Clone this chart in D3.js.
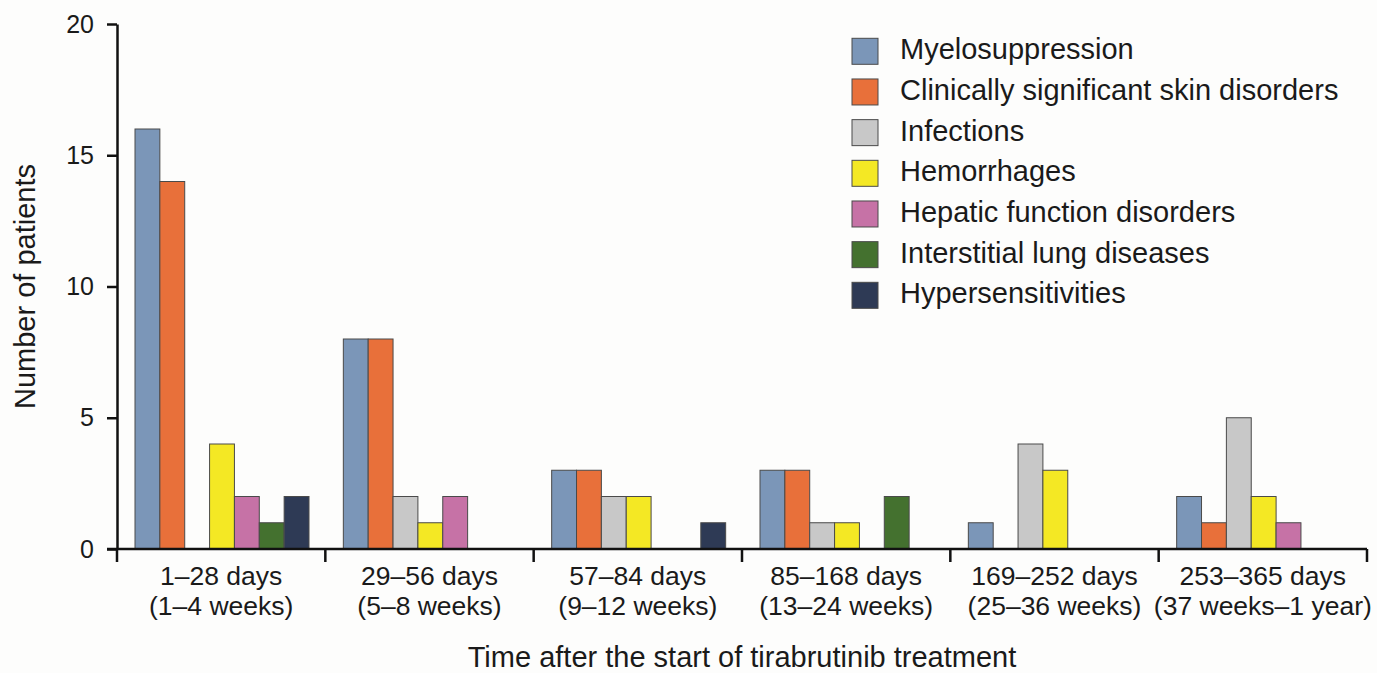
<!DOCTYPE html>
<html>
<head>
<meta charset="utf-8">
<script src="https://cdn.jsdelivr.net/npm/d3@7"></script>
<style>
  body { margin: 0; background: #fdfdfc; }
  text { font-family: "Liberation Sans", Arial, sans-serif; fill: #1a1a1a; }
</style>
</head>
<body>
<div id="chart"></div>
<script>
// data
const periods = ["1–28 days|(1–4 weeks)", "29–56 days|(5–8 weeks)", "57–84 days|(9–12 weeks)",
    "85–168 days|(13–24 weeks)", "169–252 days|(25–36 weeks)", "253–365 days|(37 weeks–1 year)"];
const events = ["Myelosuppression", "Clinically significant skin disorders", "Infections", "Hemorrhages",
    "Hepatic function disorders", "Interstitial lung diseases", "Hypersensitivities"];
const myelosuppression = [16, 8, 3, 3, 1, 2];
const skinDisorders = [14, 8, 3, 3, 0, 1];
const infections = [0, 2, 2, 1, 4, 5];
const hemorrhages = [4, 1, 2, 1, 3, 2];
const hepatic = [2, 2, 0, 0, 0, 1];
const lung = [1, 0, 0, 2, 0, 0];
const hypersensitivities = [2, 0, 1, 0, 0, 0];
const yTicks = [0, 5, 10, 15, 20];
const colors = ["#7b96b8", "#e8703a", "#c8c8c8", "#f4e824", "#c672a6", "#44712f", "#2e3a55"];

const series = [myelosuppression, skinDisorders, infections, hemorrhages, hepatic, lung, hypersensitivities];
const data = periods.map((p, i) => ({ period: p, values: events.map((e, j) => ({ key: e, value: series[j][i] })) }));

// set the dimensions and margins of the graph
const margin = { top: 24, right: 10, bottom: 124, left: 117 },
    width = 1377 - margin.left - margin.right,
    height = 673 - margin.top - margin.bottom;

const svg = d3.select("#chart")
    .append("svg")
    .attr("width", 1377)
    .attr("height", 673)
    .append("g")
    .attr("transform", `translate(${margin.left}, ${margin.top})`);

const x0 = d3.scaleBand().domain(periods).range([0, 1250]).padding(0);
const x1 = d3.scaleBand().domain(events).range([18, 192]).padding(0);
const y = d3.scaleLinear().domain([0, 20]).range([height, 0]);
const color = d3.scaleOrdinal().domain(events).range(colors);

// bars
svg.append("g")
    .selectAll("g")
    .data(data)
    .join("g")
    .attr("transform", d => `translate(${x0(d.period)},0)`)
    .selectAll("rect")
    .data(d => d.values.filter(v => v.value > 0))
    .join("rect")
    .attr("x", d => x1(d.key))
    .attr("y", d => y(d.value))
    .attr("width", x1.bandwidth())
    .attr("height", d => y(0) - y(d.value))
    .attr("fill", d => color(d.key))
    .attr("stroke", "#4a4a4a")
    .attr("stroke-width", 1);

// y axis
const yAxis = svg.append("g")
    .call(d3.axisLeft(y).tickValues(yTicks).tickSize(10).tickSizeOuter(0).tickPadding(13));
yAxis.select(".domain").attr("stroke", "#111").attr("stroke-width", 2.5);
yAxis.selectAll(".tick line").attr("stroke", "#111").attr("stroke-width", 2.5);
yAxis.selectAll("text").style("font-size", "25px").attr("fill", "#1a1a1a");

// x axis: boundaries between periods
const xAxis = svg.append("g").attr("transform", `translate(0,${height})`);
xAxis.append("line")
    .attr("x1", -10).attr("x2", x0.range()[1])
    .attr("stroke", "#111").attr("stroke-width", 2.5);
xAxis.selectAll(".bound")
    .data(periods.map(p => x0(p)).concat([x0.range()[1]]))
    .join("line")
    .attr("x1", d => d).attr("x2", d => d)
    .attr("y1", 0).attr("y2", 13)
    .attr("stroke", "#111").attr("stroke-width", 2.5);

const labels = xAxis.selectAll(".lab")
    .data(periods)
    .join("text")
    .attr("text-anchor", "middle")
    .attr("transform", d => `translate(${x0(d) + x0.bandwidth() / 2},0)`)
    .style("font-size", "26.5px");
labels.append("tspan").attr("x", 0).attr("y", 36).text(d => d.split("|")[0]);
labels.append("tspan").attr("x", 0).attr("y", 66).text(d => d.split("|")[1]);

// axis titles
svg.append("text")
    .attr("x", 625)
    .attr("y", height + 118)
    .attr("text-anchor", "middle")
    .style("font-size", "29px")
    .text("Time after the start of tirabrutinib treatment");

svg.append("text")
    .attr("transform", `translate(${-82},${y(10)}) rotate(-90)`)
    .attr("text-anchor", "middle")
    .style("font-size", "29px")
    .text("Number of patients");

// legend
const legend = svg.append("g")
    .selectAll("g")
    .data(events)
    .join("g")
    .attr("transform", (d, i) => `translate(735,${14.3 + i * 40.67})`);
legend.append("rect")
    .attr("width", 26).attr("height", 26)
    .attr("fill", d => color(d))
    .attr("stroke", "#4a4a4a").attr("stroke-width", 1);
legend.append("text")
    .attr("x", 48).attr("y", 13)
    .attr("dy", "0.28em")
    .style("font-size", "29px")
    .text(d => d);
</script>
</body>
</html>
